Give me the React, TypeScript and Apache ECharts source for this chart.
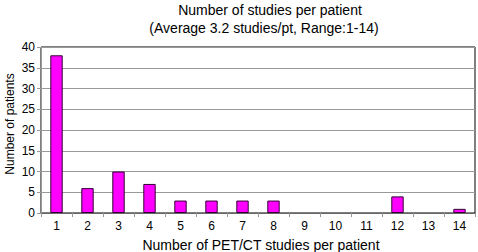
import React, { useEffect, useRef } from "react";
import * as echarts from "echarts";

const categories = ["1", "2", "3", "4", "5", "6", "7", "8", "9", "10", "11", "12", "13", "14"];
const patients = [38, 6, 10, 7, 3, 3, 3, 3, 0, 0, 0, 4, 0, 1];
const titleText = "Number of studies per patient";
const subtitleText = "(Average 3.2 studies/pt, Range:1-14)";
const xName = "Number of PET/CT studies per patient";
const yName = "Number of patients";

export default function App() {
  const ref = useRef<HTMLDivElement>(null);
  useEffect(() => {
    const chart = echarts.init(ref.current!, null, { renderer: "svg" });
    const font = "'Liberation Sans', Arial, sans-serif";
    chart.setOption({
      animation: false,
      backgroundColor: "#fff",
      textStyle: { fontFamily: font },
      title: [
        { text: titleText, left: 270, top: 3, padding: 0, textAlign: "center", textStyle: { fontSize: 14, fontWeight: "normal", color: "#000", fontFamily: font } },
        { text: subtitleText, left: 264, top: 21, padding: 0, textAlign: "center", textStyle: { fontSize: 14, fontWeight: "normal", color: "#000", fontFamily: font } },
      ],
      graphic: [
        {
          type: "text",
          x: 10,
          y: 124,
          rotation: Math.PI / 2,
          style: { text: yName, fontSize: 12, fontFamily: font, fill: "#000", textAlign: "center", textVerticalAlign: "middle" },
        },
      ],
      grid: {
        left: 41, right: 3, top: 47, bottom: 39,
        outerBoundsMode: "none",
        show: true, borderColor: "#000", borderWidth: 1, backgroundColor: "transparent",
      },
      xAxis: {
        type: "category",
        data: categories,
        name: xName,
        nameLocation: "middle",
        nameGap: 25,
        nameTextStyle: { fontSize: 14, color: "#000", fontFamily: font, padding: [0, 0, 0, 6] },
        axisLine: { lineStyle: { color: "#666" } },
        axisTick: { show: true, alignWithLabel: false, length: 4, lineStyle: { color: "#999" } },
        axisLabel: { fontSize: 12, color: "#000", margin: 7, fontFamily: font },
      },
      yAxis: {
        type: "value",
        min: 0,
        max: 40,
        interval: 5,
        axisLine: { show: true, lineStyle: { color: "#999" } },
        axisTick: { show: true, length: 4, lineStyle: { color: "#999" } },
        axisLabel: { fontSize: 12, color: "#000", margin: 6, fontFamily: font },
        splitLine: { show: true, lineStyle: { color: "#999", width: 1 } },
      },
      series: [
        {
          type: "bar",
          data: patients.map((v) => (v === 0 ? "-" : v)),
          barWidth: "40%",
          itemStyle: { color: "#ff00ff", borderColor: "#330033", borderWidth: 1 },
        },
      ],
    });
    return () => chart.dispose();
  }, []);
  return <div ref={ref} style={{ position: "absolute", left: 0, top: 0, width: 478, height: 252 }} />;
}
